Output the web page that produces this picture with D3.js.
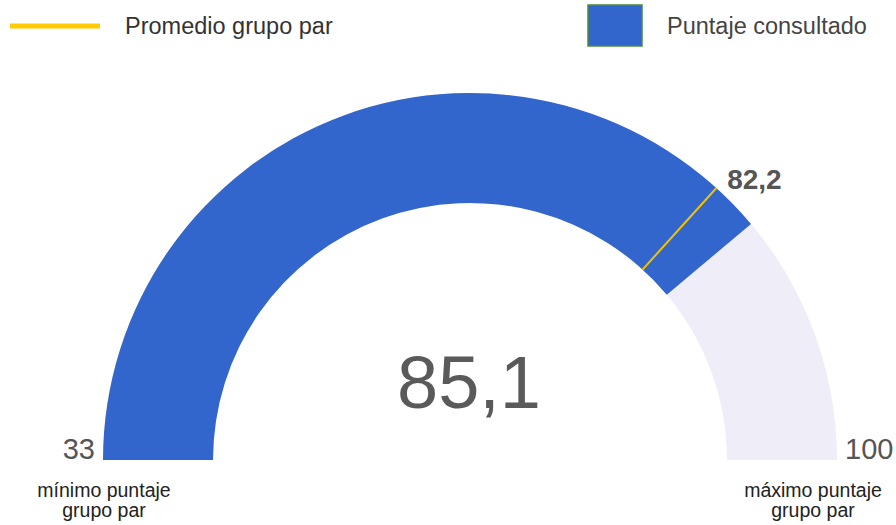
<!DOCTYPE html>
<html>
<head>
<meta charset="utf-8">
<script src="https://cdn.jsdelivr.net/npm/d3@7"></script>
<style>
  body { margin: 0; background: #fff; }
  svg { font-family: "Liberation Sans", Arial, sans-serif; }
</style>
</head>
<body>
<svg id="gauge"></svg>
<script>
let rangeMin = 33;
let rangeMax = 100;
let score = 85.1;
let peerAvg = 82.2;
let legendLabels = ["Promedio grupo par", "Puntaje consultado"];
let minLabel = ["mínimo puntaje", "grupo par"];
let maxLabel = ["máximo puntaje", "grupo par"];

let width = 896;
let height = 525;
let cx = 470, cy = 460;
let outerR = 367, innerR = 257;

let fmt = v => String(v).replace(".", ",");

let svg = d3.select("#gauge")
    .attr("width", width)
    .attr("height", height);

// value -> angle
let angle = d3.scaleLinear()
    .domain([rangeMin, rangeMax])
    .range([-Math.PI / 2, Math.PI / 2]);

let arc = d3.arc()
    .innerRadius(innerR)
    .outerRadius(outerR);

let g = svg.append("g")
    .attr("transform", `translate(${cx},${cy})`);

// background track
g.append("path")
    .attr("d", arc({startAngle: angle(rangeMin), endAngle: angle(rangeMax)}))
    .attr("fill", "#eeedf8");

// score
g.append("path")
    .attr("d", arc({startAngle: angle(rangeMin), endAngle: angle(score)}))
    .attr("fill", "#3366cc");

// peer average marker
let a = angle(peerAvg);
g.append("line")
    .attr("x1", innerR * Math.sin(a))
    .attr("y1", -innerR * Math.cos(a))
    .attr("x2", outerR * Math.sin(a))
    .attr("y2", -outerR * Math.cos(a))
    .attr("stroke", "#f2c200")
    .attr("stroke-width", 2);

g.append("text")
    .attr("x", (outerR + 10) * Math.sin(a) + 4)
    .attr("y", -(outerR + 10) * Math.cos(a) + 8)
    .text(fmt(peerAvg))
    .style("font-size", "28px")
    .style("font-weight", "bold")
    .style("fill", "#555");

// central value
g.append("text")
    .attr("x", -1)
    .attr("y", -52)
    .text(fmt(score))
    .style("font-size", "74px")
    .style("fill", "#5a5a5a")
    .style("text-anchor", "middle");

// range ends
g.append("text")
    .attr("x", -outerR - 8)
    .attr("y", -1)
    .text(rangeMin)
    .style("font-size", "29px")
    .style("fill", "#555")
    .style("text-anchor", "end");

g.append("text")
    .attr("x", outerR + 8)
    .attr("y", -1)
    .text(rangeMax)
    .style("font-size", "29px")
    .style("fill", "#555")
    .style("text-anchor", "start");

// under labels
svg.selectAll("text.minlab")
    .data(minLabel).enter()
    .append("text")
    .attr("class", "minlab")
    .attr("x", 104)
    .attr("y", (d, i) => 497 + i * 20)
    .text(d => d)
    .style("font-size", "19.5px")
    .style("fill", "#222")
    .style("text-anchor", "middle");

svg.selectAll("text.maxlab")
    .data(maxLabel).enter()
    .append("text")
    .attr("class", "maxlab")
    .attr("x", 813)
    .attr("y", (d, i) => 497 + i * 20)
    .text(d => d)
    .style("font-size", "19.5px")
    .style("fill", "#222")
    .style("text-anchor", "middle");

// legend
svg.append("line")
    .attr("x1", 10).attr("x2", 100)
    .attr("y1", 26).attr("y2", 26)
    .attr("stroke", "#ffcc00")
    .attr("stroke-width", 5);

svg.append("text")
    .attr("x", 125).attr("y", 34)
    .text(legendLabels[0])
    .style("font-size", "23.5px")
    .style("fill", "#333");

svg.append("rect")
    .attr("x", 588).attr("y", 5)
    .attr("width", 54).attr("height", 41)
    .attr("fill", "#3366cc")
    .attr("stroke", "#4b8a3e")
    .attr("stroke-width", 1.5);

svg.append("text")
    .attr("x", 667).attr("y", 34)
    .text(legendLabels[1])
    .style("font-size", "23.5px")
    .style("fill", "#444");
</script>
</body>
</html>
